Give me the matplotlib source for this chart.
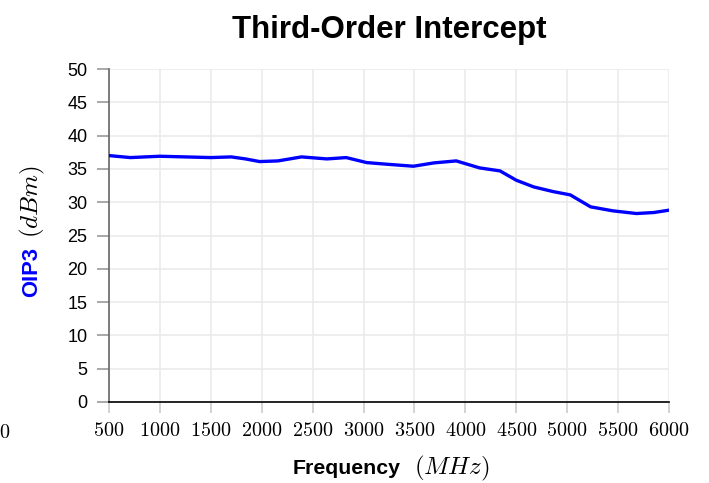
import matplotlib
matplotlib.use('Agg')
import matplotlib.pyplot as plt

# 数据
freq = [500, 710, 1000, 1250, 1500, 1700, 1840, 1980, 2160, 2390, 2640, 2830,
        3030, 3230, 3490, 3690, 3910, 4140, 4340, 4500, 4670, 4860, 5030, 5230,
        5450, 5680, 5850, 6000]
oip3 = [37.0, 36.7, 36.9, 36.8, 36.7, 36.8, 36.5, 36.1, 36.2, 36.8, 36.5, 36.7,
        35.95, 35.7, 35.4, 35.9, 36.2, 35.15, 34.7, 33.3, 32.3, 31.6, 31.1, 29.3,
        28.7, 28.3, 28.45, 28.8]
x_ticks = [500, 1000, 1500, 2000, 2500, 3000, 3500, 4000, 4500, 5000, 5500, 6000]
y_ticks = [0, 5, 10, 15, 20, 25, 30, 35, 40, 45, 50]

plt.rcParams['font.family'] = ['Liberation Sans', 'DejaVu Sans']
plt.rcParams['mathtext.fontset'] = 'cm'

fig = plt.figure(figsize=(7.09, 4.83), dpi=100)
ax = fig.add_axes([109 / 709, 1 - 402 / 483, 560 / 709, 333 / 483])

ax.plot(freq, oip3, color='#0000ff', linewidth=2.4, solid_joinstyle='round',
        solid_capstyle='round', zorder=3)

ax.set_xlim(500, 6000)
ax.set_ylim(0, 50)
ax.set_xticks(x_ticks)
ax.set_xticklabels([f'${v}$' for v in x_ticks], fontsize=14.5)
ax.set_yticks(y_ticks)
ax.set_yticklabels([str(v) for v in y_ticks], fontsize=13)

ax.grid(True, color='#ebebeb', linewidth=1.2)
ax.set_axisbelow(True)
for s in ['top', 'right']:
    ax.spines[s].set_visible(False)
ax.spines['left'].set_color('#666666')
ax.spines['left'].set_linewidth(1.2)
ax.spines['bottom'].set_color('black')
ax.spines['bottom'].set_linewidth(1.2)
ax.tick_params(axis='x', length=8, color='#cccccc', width=1.2, pad=6)
ax.tick_params(axis='y', length=8.5, color='#999999', width=1.2, pad=7)

ax.set_title('Third-Order Intercept', fontsize=22.5, fontweight='bold', pad=22)

# x 轴标题分两段：粗体文字 + 数学斜体
fig.text(347 / 709, 1 - 474 / 483, 'Frequency', fontsize=15.3, fontweight='bold',
         ha='center', va='baseline')
fig.text(452 / 709, 1 - 474 / 483, r'$(MHz)$', fontsize=18, ha='center', va='baseline')

# y 轴标题：蓝色 OIP3 + 黑色 (dBm)
fig.text(32 / 709, 1 - 272 / 483, 'OIP3', color='#0000ff', fontsize=15.8,
         fontweight='bold', rotation=90, ha='center', va='center')
fig.text(32 / 709, 1 - 202 / 483, r'$(dBm)$', color='black', fontsize=18,
         rotation=90, ha='center', va='center')

# 左下角多出来的 0
fig.text(5 / 709, 1 - 432 / 483, '$0$', fontsize=14.5, ha='center', va='center')

fig.savefig('out.png', dpi=100)
